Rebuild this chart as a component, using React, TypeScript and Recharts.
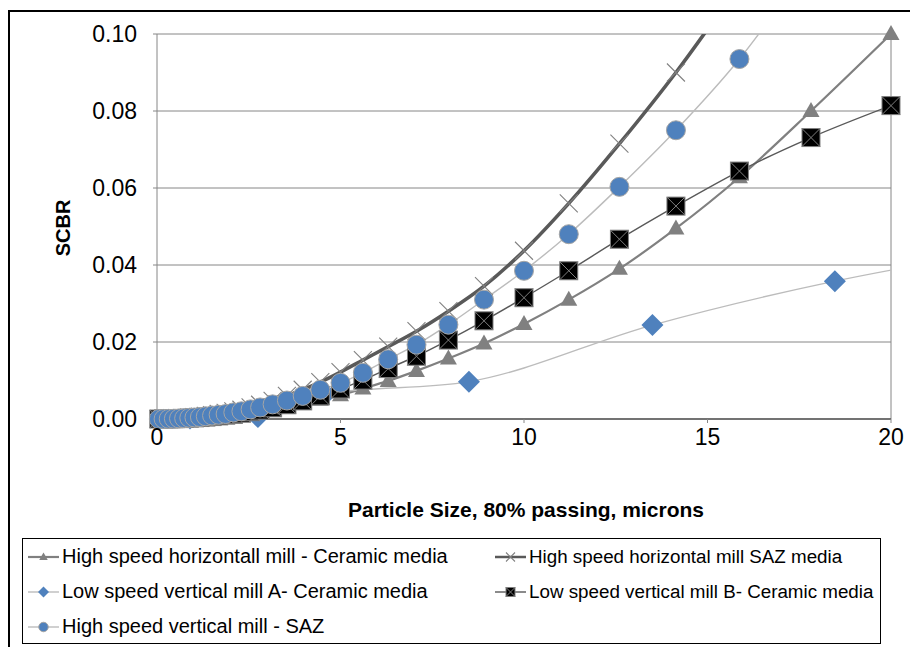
import React from "react";
import { CartesianGrid, Line, LineChart, ReferenceLine, XAxis, YAxis } from "recharts";

// particle sizes (P80, microns) shared by the sieve-style series
const SIZES = [
  0.05, 0.18, 0.32, 0.46, 0.6, 0.74, 0.88, 1.02, 1.17, 1.33, 1.5, 1.68, 1.87, 2.08, 2.3, 2.55,
  2.81, 3.15, 3.54, 3.97, 4.45, 5, 5.61, 6.3, 7.07, 7.94, 8.91, 10, 11.22, 12.6, 14.14, 15.87,
  17.82, 20,
];

const HS_HORIZ_CERAMIC = [
  0, 0.00001, 0.00003, 0.00005, 0.00009, 0.00014, 0.0002, 0.00026, 0.00034, 0.00044, 0.00056,
  0.0007, 0.00087, 0.0011, 0.0013, 0.0016, 0.002, 0.0025, 0.0031, 0.004, 0.005, 0.0062, 0.0079,
  0.0099, 0.0125, 0.0157, 0.0196, 0.0247, 0.031, 0.039, 0.0495, 0.0628, 0.08, 0.1,
];

const HS_HORIZ_SAZ = [
  0, 0.00002, 0.00005, 0.0001, 0.00017, 0.00025, 0.00035, 0.00047, 0.0006, 0.0008, 0.001, 0.0013,
  0.0016, 0.002, 0.0024, 0.003, 0.0037, 0.0047, 0.006, 0.0076, 0.0096, 0.0122, 0.0153, 0.0188,
  0.0228, 0.028, 0.0345, 0.0437, 0.056, 0.0715, 0.09, 0.113,
];

const LS_VERT_B_CERAMIC = [
  0, 0.00001, 0.00003, 0.00006, 0.0001, 0.00015, 0.00022, 0.0003, 0.00038, 0.0005, 0.00063,
  0.0008, 0.001, 0.0012, 0.0015, 0.0019, 0.0023, 0.0029, 0.0037, 0.0047, 0.006, 0.0078, 0.0101,
  0.0131, 0.0163, 0.0205, 0.0255, 0.0315, 0.0385, 0.0467, 0.0553, 0.0644, 0.0731, 0.0814,
];

const HS_VERT_SAZ = [
  0, 0.00001, 0.00004, 0.00008, 0.00014, 0.0002, 0.0003, 0.0004, 0.0005, 0.0007, 0.0009, 0.0011,
  0.0013, 0.0017, 0.002, 0.0025, 0.003, 0.0038, 0.0048, 0.006, 0.0076, 0.0094, 0.012, 0.0155,
  0.0193, 0.0245, 0.031, 0.0385, 0.048, 0.0603, 0.075, 0.0935, 0.119,
];

// low speed vertical mill A was sampled at its own sizes
const LS_VERT_A_SIZES = [0.9, 2.75, 4.6, 8.5, 13.5, 18.47, 23.5];
const LS_VERT_A_CERAMIC = [0.0001, 0.0005, 0.0065, 0.0097, 0.0244, 0.0358, 0.0445];

const X_TICKS = [0, 5, 10, 15, 20];
const Y_TICKS = [0, 0.02, 0.04, 0.06, 0.08, 0.1];

const FONT = "'Liberation Sans', Arial, sans-serif";
const BLUE = "#4f81bd";

type Pt = { x: number; y: number };
const toPoints = (xs: number[], ys: number[]): Pt[] => ys.map((y, i) => ({ x: xs[i], y }));
const inView = (pts: Pt[]) => pts.filter((p) => p.x <= 20 && p.y <= 0.1);

const Triangle = ({ cx, cy, s = 1 }: any) => (
  <path
    d={`M${cx},${cy - 9 * s} L${cx + 8.5 * s},${cy + 6 * s} L${cx - 8.5 * s},${cy + 6 * s} Z`}
    fill="#808080"
  />
);
const Cross = ({ cx, cy, s = 1 }: any) => (
  <path
    d={`M${cx - 9 * s},${cy - 9 * s} L${cx + 9 * s},${cy + 9 * s} M${cx + 9 * s},${cy - 9 * s} L${cx - 9 * s},${cy + 9 * s}`}
    stroke="#808080"
    strokeWidth={1.1}
  />
);
const Diamond = ({ cx, cy, s = 1 }: any) => (
  <path
    d={`M${cx},${cy - 11 * s} L${cx + 11 * s},${cy} L${cx},${cy + 11 * s} L${cx - 11 * s},${cy} Z`}
    fill={BLUE}
  />
);
const BoxX = ({ cx, cy, s = 1 }: any) => {
  const h = 9 * s;
  return (
    <g>
      <rect x={cx - h} y={cy - h} width={2 * h} height={2 * h} fill="#000" stroke="#7f7f7f" strokeWidth={1} />
      <path
        d={`M${cx - h},${cy - h} L${cx + h},${cy + h} M${cx + h},${cy - h} L${cx - h},${cy + h}`}
        stroke="#7f7f7f"
        strokeWidth={1}
      />
    </g>
  );
};
const Circle = ({ cx, cy, s = 1 }: any) => (
  <circle cx={cx} cy={cy} r={9.5 * s} fill={BLUE} stroke="#a5a5a5" strokeWidth={1} />
);

const SERIES = [
  {
    name: "High speed horizontall mill - Ceramic media",
    pts: toPoints(SIZES, HS_HORIZ_CERAMIC),
    stroke: "#808080",
    width: 2.2,
    Marker: Triangle,
  },
  {
    name: "High speed horizontal mill SAZ media",
    pts: toPoints(SIZES, HS_HORIZ_SAZ),
    stroke: "#595959",
    width: 3.6,
    Marker: Cross,
  },
  {
    name: "Low speed vertical mill A- Ceramic media",
    pts: toPoints(LS_VERT_A_SIZES, LS_VERT_A_CERAMIC),
    stroke: "#bcbcbc",
    width: 1.4,
    Marker: Diamond,
  },
  {
    name: "Low speed vertical mill B- Ceramic media",
    pts: toPoints(SIZES, LS_VERT_B_CERAMIC),
    stroke: "#595959",
    width: 1.4,
    Marker: BoxX,
  },
  {
    name: "High speed vertical mill - SAZ",
    pts: toPoints(SIZES, HS_VERT_SAZ),
    stroke: "#bcbcbc",
    width: 1.4,
    Marker: Circle,
  },
];

const LegendItem = ({ s }: { s: (typeof SERIES)[number] }) => (
  <div style={{ display: "flex", alignItems: "center", height: 35 }}>
    <svg width={31} height={16} style={{ marginRight: 3 }}>
      <line x1={0} y1={8} x2={31} y2={8} stroke={s.stroke} strokeWidth={Math.min(s.width, 2.5)} />
      <s.Marker cx={15.5} cy={8} s={0.5} />
    </svg>
    <span>{s.name}</span>
  </div>
);

export default function App() {
  return (
    <div style={{ position: "relative", width: 910, height: 639, overflow: "hidden", fontFamily: FONT }}>
      <div
        style={{
          position: "absolute",
          left: 0,
          top: 2,
          width: 1000,
          height: 1000,
          border: "2px solid #000",
          boxSizing: "border-box",
        }}
      />
      <div style={{ position: "absolute", left: 0, top: 0 }}>
        <LineChart width={910} height={500} margin={{ top: 26, right: 27, left: 0, bottom: 49 }}>
          <CartesianGrid horizontal vertical={false} stroke="#868686" strokeWidth={1} />
          <XAxis
            type="number"
            dataKey="x"
            domain={[0, 20]}
            ticks={X_TICKS}
            allowDataOverflow
            height={40}
            tick={{ fontSize: 23, fill: "#000", fontFamily: FONT }}
            tickSize={4}
            tickMargin={6}
            axisLine={{ stroke: "#595959", strokeWidth: 1.5 }}
            tickLine={{ stroke: "#868686" }}
          />
          <YAxis
            type="number"
            dataKey="y"
            domain={[0, 0.1]}
            ticks={Y_TICKS}
            allowDataOverflow
            width={149}
            tickFormatter={(v: number) => v.toFixed(2)}
            tick={{ fontSize: 23, fill: "#000", fontFamily: FONT }}
            tickSize={4}
            tickMargin={16}
            axisLine={{ stroke: "#868686" }}
            tickLine={{ stroke: "#868686" }}
          />
          {/* marker-only axes: same scales, no clipping so edge markers stay whole */}
          <XAxis xAxisId="m" type="number" dataKey="x" domain={[0, 20]} hide />
          <YAxis yAxisId="m" type="number" dataKey="y" domain={[0, 0.1]} hide />
          <ReferenceLine x={20} stroke="#868686" strokeWidth={1} />
          {SERIES.flatMap((s) => [
            <Line
              key={s.name + "-line"}
              data={s.pts}
              dataKey="y"
              type="monotone"
              stroke={s.stroke}
              strokeWidth={s.width}
              dot={false}
              activeDot={false}
              isAnimationActive={false}
            />,
            <Line
              key={s.name + "-marks"}
              xAxisId="m"
              yAxisId="m"
              data={inView(s.pts)}
              dataKey="y"
              stroke="none"
              dot={(p: any) => <s.Marker key={p.index} cx={p.cx} cy={p.cy} />}
              activeDot={false}
              isAnimationActive={false}
            />,
          ])}
        </LineChart>
      </div>
      <div
        style={{
          position: "absolute",
          left: 55,
          top: 220,
          transform: "translate(-50%, -50%) rotate(-90deg)",
          fontWeight: "bold",
          fontSize: 20,
        }}
      >
        SCBR
      </div>
      <div
        style={{
          position: "absolute",
          left: 518,
          top: 502,
          transform: "translate(-50%, -50%)",
          fontWeight: "bold",
          fontSize: 21,
          whiteSpace: "nowrap",
        }}
      >
        Particle Size, 80% passing, microns
      </div>
      <div
        style={{
          position: "absolute",
          left: 14,
          top: 530,
          width: 859,
          height: 106,
          border: "1.5px solid #000",
          boxSizing: "border-box",
          whiteSpace: "nowrap",
        }}
      >
        <div style={{ position: "absolute", left: 5, top: 0, fontSize: 20 }}>
          <LegendItem s={SERIES[0]} />
          <LegendItem s={SERIES[2]} />
          <LegendItem s={SERIES[4]} />
        </div>
        <div style={{ position: "absolute", left: 472, top: 0, fontSize: 18.8 }}>
          <LegendItem s={SERIES[1]} />
          <LegendItem s={SERIES[3]} />
        </div>
      </div>
    </div>
  );
}
